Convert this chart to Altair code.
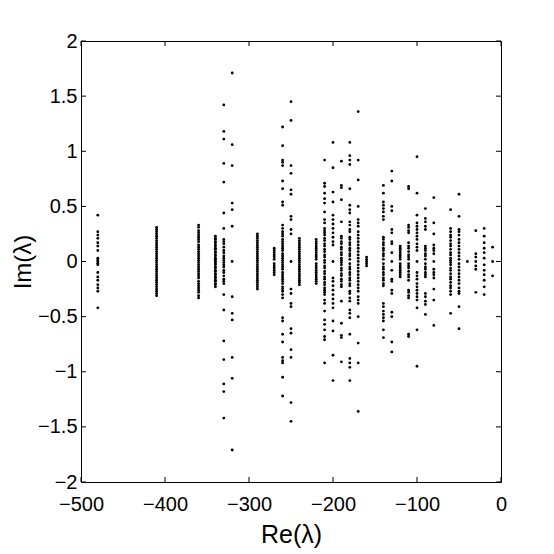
import altair as alt
import pandas as pd

# Real parts of the eigenvalue columns
re_cols = [-480, -410, -360, -340, -330, -320, -290, -270, -260, -250, -240,
           -220, -210, -200, -190, -180, -170, -160, -140, -130, -120, -110,
           -100, -90, -80, -60, -50, -40, -30, -20, -10]

# Positive imaginary parts in each column (each one has a conjugate partner)
im_upper = [
    [0.42, 0.27, 0.24, 0.21, 0.17, 0.14, 0.10, 0.03, 0.015],
    [0.31, 0.29, 0.27, 0.25, 0.23, 0.21, 0.19, 0.17, 0.15, 0.13, 0.11, 0.09, 0.07, 0.05, 0.03, 0.01],
    [0.33, 0.31, 0.28, 0.26, 0.24, 0.22, 0.20, 0.18, 0.15, 0.13, 0.11, 0.09, 0.07, 0.05, 0.03, 0.01],
    [0.23, 0.21, 0.20, 0.18, 0.17, 0.15, 0.14, 0.12, 0.11, 0.09, 0.08, 0.06, 0.05, 0.03, 0.02, 0.005],
    [1.42, 1.18, 1.11, 0.89, 0.72, 0.44, 0.30, 0.20, 0.18, 0.16, 0.13, 0.10, 0.08, 0.05, 0.03, 0.01],
    [1.71, 1.06, 0.87, 0.53, 0.47, 0.32],
    [0.25, 0.23, 0.21, 0.19, 0.17, 0.15, 0.13, 0.11, 0.09, 0.07, 0.05, 0.03, 0.01],
    [0.12, 0.10, 0.08, 0.06, 0.04, 0.02],
    [1.22, 1.05, 0.92, 0.90, 0.87, 0.73, 0.66, 0.54, 0.51, 0.33, 0.30, 0.27, 0.25, 0.23, 0.20, 0.18, 0.16, 0.14, 0.12, 0.10, 0.07, 0.05, 0.03, 0.01],
    [1.45, 1.28, 0.87, 0.80, 0.65, 0.61, 0.41, 0.38, 0.29, 0.25],
    [0.21, 0.19, 0.17, 0.15, 0.13, 0.11, 0.09, 0.07, 0.05, 0.03, 0.01],
    [0.20, 0.18, 0.16, 0.14, 0.12, 0.10, 0.08, 0.06, 0.04, 0.02],
    [0.92, 0.71, 0.68, 0.62, 0.57, 0.53, 0.45, 0.38, 0.35, 0.30, 0.28, 0.26, 0.24, 0.21, 0.19, 0.16, 0.14, 0.11, 0.09, 0.06, 0.04, 0.01],
    [1.08, 0.85, 0.63, 0.54, 0.42, 0.38, 0.34, 0.30, 0.26, 0.22, 0.18, 0.15],
    [0.91, 0.69, 0.67, 0.56, 0.36, 0.23, 0.21, 0.18, 0.16, 0.13, 0.11, 0.08, 0.06, 0.03, 0.01],
    [1.08, 0.96, 0.92, 0.88, 0.66, 0.51, 0.47, 0.44, 0.36, 0.33, 0.29, 0.27, 0.22, 0.20, 0.17, 0.15, 0.12, 0.10, 0.07, 0.05, 0.02],
    [1.36, 0.92, 0.74, 0.50, 0.38, 0.35, 0.32, 0.27, 0.24, 0.21, 0.18, 0.15, 0.12, 0.09, 0.06, 0.03],
    [0.04, 0.02],
    [0.69, 0.62, 0.54, 0.51, 0.48, 0.45, 0.41, 0.38, 0.22, 0.20, 0.17, 0.15, 0.12, 0.10, 0.07, 0.05, 0.02],
    [0.82, 0.73, 0.50, 0.46, 0.29, 0.26, 0.18, 0.16, 0.08],
    [0.14, 0.12, 0.10, 0.08, 0.06, 0.04, 0.02],
    [0.68, 0.66, 0.33, 0.31, 0.28, 0.26, 0.17, 0.14, 0.12, 0.09, 0.06, 0.04, 0.02],
    [0.95, 0.62, 0.42, 0.35, 0.32, 0.29, 0.26, 0.23, 0.20, 0.16, 0.13, 0.10],
    [0.48, 0.39, 0.36, 0.32, 0.29, 0.14, 0.12, 0.10, 0.07, 0.05, 0.02],
    [0.58, 0.35, 0.25, 0.15, 0.12, 0.10, 0.07],
    [0.47, 0.30, 0.27, 0.24, 0.22, 0.19, 0.16, 0.14, 0.11, 0.08, 0.06, 0.03, 0.01],
    [0.61, 0.41, 0.29, 0.27, 0.24, 0.20, 0.17, 0.14, 0.11, 0.08, 0.05, 0.02],
    [],
    [0.28, 0.07, 0.04],
    [0.30, 0.23, 0.17, 0.12, 0.08, 0.03],
    [0.13],
]

# Number of purely real eigenvalues (Im = 0) in each column
n_real = [1, 0, 0, 0, 0, 1, 0, 0, 0, 1, 0,
          0, 0, 1, 0, 0, 1, 1, 0, 1, 0, 0,
          1, 0, 1, 0, 0, 1, 1, 0, 1]

x_ticks = [-500, -400, -300, -200, -100, 0]
y_ticks = [-2, -1.5, -1, -0.5, 0, 0.5, 1, 1.5, 2]

rows = []
for re_v, ims, nr in zip(re_cols, im_upper, n_real):
    for v in ims:
        rows.append({"re": re_v, "im": v})
        rows.append({"re": re_v, "im": -v})
    for _ in range(nr):
        rows.append({"re": re_v, "im": 0.0})
df = pd.DataFrame(rows)

W, H = 420, 441
FONT = "Liberation Sans"
xs = alt.Scale(domain=[-500, 0], nice=False, zero=False)
ys = alt.Scale(domain=[-2, 2], nice=False, zero=False)

x_axis = alt.Axis(values=x_ticks, format="d", ticks=False, domain=False,
                  grid=False, labelFontSize=20, labelPadding=12,
                  labelOverlap=False, labelFlush=False, labelBound=False,
                  labelFont=FONT, labelColor="black",
                  titleFont=FONT, titleFontSize=25, titleFontWeight="normal",
                  titleColor="black", titleY=60, titleBaseline="alphabetic")
y_axis = alt.Axis(values=y_ticks, format="~g", ticks=False, domain=False,
                  grid=False, labelFontSize=20, labelPadding=4,
                  labelOverlap=False, labelFlush=False, labelBound=False,
                  labelFont=FONT, labelColor="black",
                  titleFont=FONT, titleFontSize=24, titleFontWeight="normal",
                  titleColor="black", titleX=-51, titleBaseline="alphabetic")

X_ENC = alt.X("re:Q", scale=xs, title="Re(λ)", axis=x_axis)
Y_ENC = alt.Y("im:Q", scale=ys, title="Im(λ)", axis=y_axis)

points = alt.Chart(df).mark_circle(size=8, color="black", opacity=1).encode(
    x=X_ENC, y=Y_ENC)

xt = pd.DataFrame({"re": x_ticks})
yt = pd.DataFrame({"im": y_ticks})
TL = 5
x_bottom = alt.Chart(xt).mark_rule(color="black", strokeWidth=1).encode(
    x=X_ENC, y=alt.value(H), y2=alt.value(H - TL))
x_top = alt.Chart(xt).mark_rule(color="black", strokeWidth=1).encode(
    x=X_ENC, y=alt.value(0), y2=alt.value(TL))
y_left = alt.Chart(yt).mark_rule(color="black", strokeWidth=1).encode(
    y=Y_ENC, x=alt.value(0), x2=alt.value(TL))
y_right = alt.Chart(yt).mark_rule(color="black", strokeWidth=1).encode(
    y=Y_ENC, x=alt.value(W), x2=alt.value(W - TL))

chart = alt.layer(points, x_bottom, x_top, y_left, y_right).properties(
    width=W, height=H,
    autosize=alt.AutoSizeParams(type="none"),
    padding={"left": 73, "top": 33, "right": 44, "bottom": 66},
    background="white",
).configure_view(stroke="black", strokeWidth=1)

chart.save("out.html", embed_options={"renderer": "svg", "actions": False})
